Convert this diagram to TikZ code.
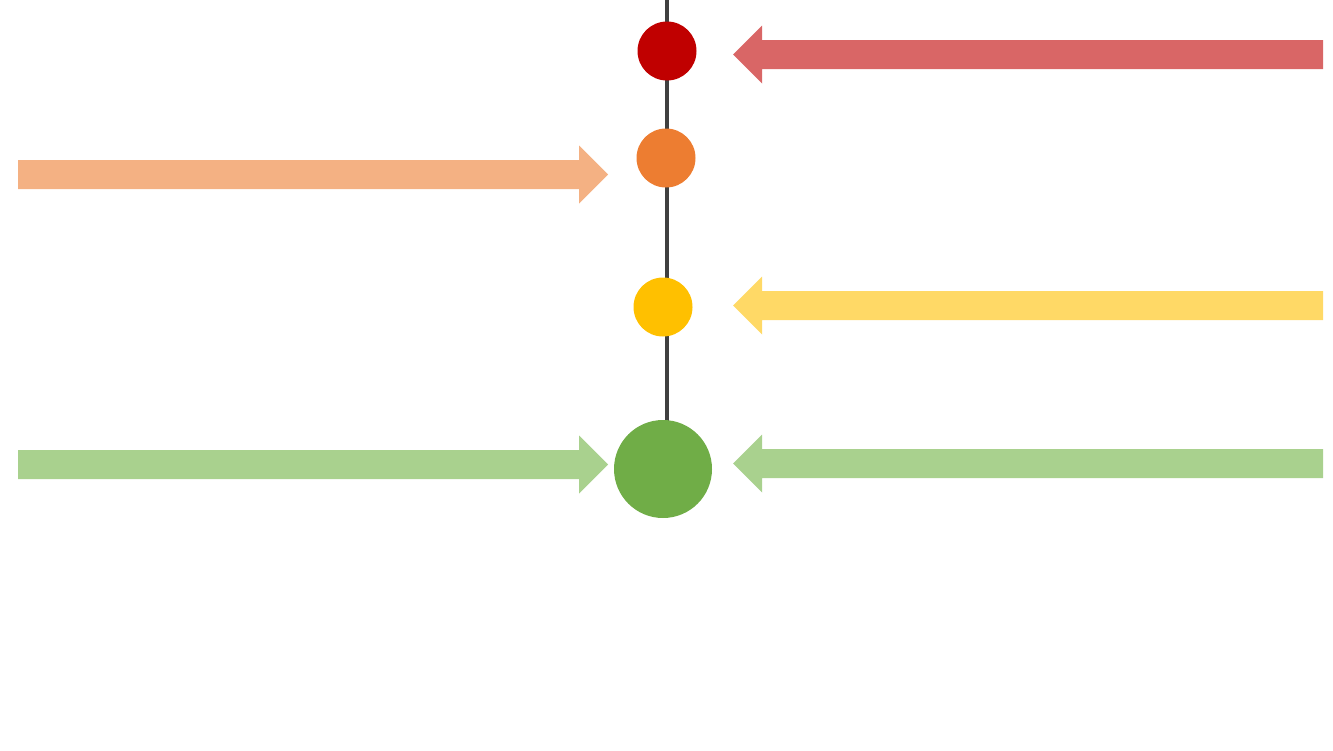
\documentclass[tikz,border=0pt]{standalone}
\usepackage{tikz}
\usetikzlibrary{backgrounds}
\definecolor{cRed}{HTML}{C00000}
\definecolor{aRed}{HTML}{D96666}
\definecolor{cOrange}{HTML}{ED7D31}
\definecolor{aOrange}{HTML}{F4B183}
\definecolor{cYellow}{HTML}{FFC000}
\definecolor{aYellow}{HTML}{FFD966}
\definecolor{cGreen}{HTML}{70AD47}
\definecolor{aGreen}{HTML}{A9D18E}
\definecolor{lineGray}{HTML}{404040}
\tikzset{
  dot/.style={circle,inner sep=0pt,minimum size=#1*0.75pt,draw=none},
  blockarrow/.style={fill=#1,draw=none},
  stem/.style={lineGray,line width=3pt},
}
% left-pointing block arrow: tip x, center y, tail x, colour
\newcommand{\leftblock}[4]{%
  \fill[blockarrow=#4] (#1,#2) -- (#1+29,#2-29) -- (#1+29,#2-14.5) -- (#3,#2-14.5) -- (#3,#2+14.5) -- (#1+29,#2+14.5) -- (#1+29,#2+29) -- cycle;}
% right-pointing block arrow: tip x, center y, tail x, colour
\newcommand{\rightblock}[4]{%
  \fill[blockarrow=#4] (#1,#2) -- (#1-29,#2-29) -- (#1-29,#2-14.5) -- (#3,#2-14.5) -- (#3,#2+14.5) -- (#1-29,#2+14.5) -- (#1-29,#2+29) -- cycle;}
\begin{document}
\begin{tikzpicture}[x=0.75pt,y=-0.75pt]
\useasboundingbox (0,0) rectangle (1333,750);
\coordinate (top) at (667,0);
\coordinate (bottom) at (667,421);
\node[dot=59,fill=cRed] (red) at (667,51) {};
\node[dot=59,fill=cOrange] (orange) at (666,158) {};
\node[dot=59,fill=cYellow] (yellow) at (663,307) {};
\node[dot=98,fill=cGreen] (green) at (663,469) {};
\begin{scope}[on background layer]
\draw[stem] (top) -- (bottom);
\end{scope}
% arrows
\leftblock{733}{54.5}{1323}{aRed}
\rightblock{608}{174.5}{18}{aOrange}
\leftblock{733}{305.5}{1323}{aYellow}
\rightblock{608}{464.5}{18}{aGreen}
\leftblock{733}{463.5}{1323}{aGreen}
\end{tikzpicture}
\end{document}
